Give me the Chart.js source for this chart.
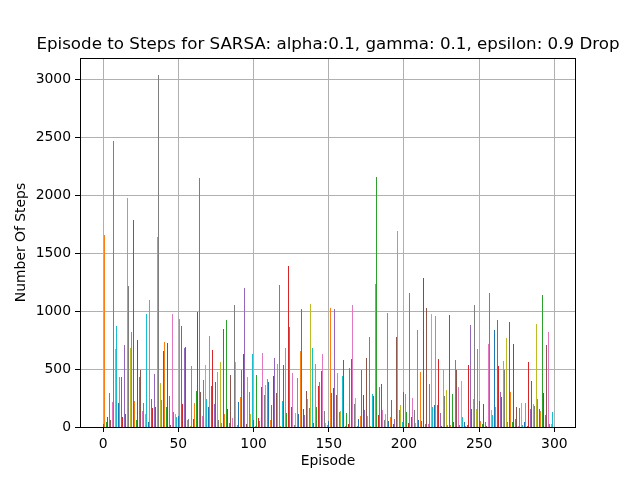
<!DOCTYPE html>
<html>
<head>
<meta charset="utf-8">
<script src="https://cdn.jsdelivr.net/npm/chart.js@4.4.0/dist/chart.umd.min.js"></script>
<style>
  html, body { margin: 0; padding: 0; background: #fff; }
  canvas { display: block; }
</style>
</head>
<body>
<canvas id="chart" width="640" height="480"></canvas>
<script>
// Steps per episode (episode 0..299)
const steps = [
    25, 1655, 43, 83, 293, 60, 215, 2466, 672, 871,
    207, 431, 431, 86, 707, 112, 1974, 1216, 681, 819,
    1785, 224, 60, 750, 431, 491, 138, 207, 112, 974,
    43, 1095, 241, 164, 457, 172, 1638, 3035, 379, 233,
    655, 733, 172, 724, 267, 20, 975, 129, 112, 86,
    95, 931, 871, 198, 681, 690, 60, 69, 10, 526,
    69, 207, 310, 991, 2147, 302, 92, 405, 535, 241,
    172, 785, 353, 664, 198, 388, 474, 60, 560, 34,
    845, 112, 923, 155, 34, 448, 78, 1052, 560, 17,
    215, 259, 491, 629, 1198, 26, 431, 302, 112, 629,
    60, 9, 448, 78, 52, 345, 638, 276, 362, 414,
    388, 60, 190, 440, 595, 293, 543, 1224, 10, 224,
    535, 681, 121, 1388, 862, 172, 466, 17, 121, 422,
    112, 655, 1017, 155, 100, 310, 241, 164, 1060, 681,
    34, 543, 172, 353, 388, 483, 629, 138, 34, 20,
    52, 1026, 293, 336, 1017, 276, 466, 129, 138, 440,
    578, 9, 121, 26, 509, 586, 1052, 198, 250, 9,
    69, 95, 491, 276, 147, 595, 95, 776, 10, 284,
    267, 1233, 2155, 103, 345, 371, 147, 60, 112, 983,
    52, 86, 233, 26, 69, 776, 1690, 147, 190, 40,
    302, 284, 129, 34, 1155, 86, 250, 147, 34, 836,
    60, 474, 52, 1285, 26, 1026, 26, 371, 974, 172,
    190, 957, 190, 586, 121, 9, 491, 267, 319, 17,
    966, 20, 284, 43, 578, 491, 345, 17, 397, 86,
    43, 5, 17, 535, 879, 155, 241, 1052, 155, 672,
    224, 52, 26, 198, 43, 5, 716, 1155, 147, 103,
    836, 172, 923, 526, 302, 259, 569, 491, 767, 43,
    905, 302, 43, 716, 69, 172, 10, 164, 207, 17,
    43, 207, 5, 560, 155, 397, 198, 181, 888, 241,
    155, 138, 1138, 293, 103, 707, 819, 30, 26, 129
];
const episodes = steps.map((_, i) => i);

// Tick labels
const xTicks = [0, 50, 100, 150, 200, 250, 300];
const yTicks = [0, 500, 1000, 1500, 2000, 2500, 3000];

// matplotlib tab10 colour cycle, one colour per bar
const tab10 = ['#1f77b4', '#ff7f0e', '#2ca02c', '#d62728', '#9467bd',
               '#8c564b', '#e377c2', '#7f7f7f', '#bcbd22', '#17becf'];

const titleText = 'Episode to Steps for SARSA: alpha:0.1, gamma: 0.1, epsilon: 0.9 Drop';
const FONT = 'DejaVu Sans';

Chart.defaults.color = '#000';
Chart.defaults.font.family = FONT;

// Snap the thin bars to whole pixels (matplotlib does the same), so they stay crisp
const snapPlugin = {
    id: 'snap',
    beforeDatasetsDraw(chart) {
        chart.getDatasetMeta(0).data.forEach(bar => {
            bar.x = Math.floor(bar.x) + 0.5;
            bar.width = 1;
            bar.y = Math.round(bar.y);
            bar.base = Math.round(bar.base);
        });
    }
};

// Title and full box frame like matplotlib spines
const framePlugin = {
    id: 'frame',
    afterDraw(chart) {
        const { ctx, chartArea: a } = chart;
        ctx.save();
        ctx.strokeStyle = '#000';
        ctx.lineWidth = 1;
        ctx.strokeRect(a.left + 0.5, a.top + 0.5, a.right - a.left - 1, a.bottom - a.top);
        ctx.fillStyle = '#000';
        ctx.font = '16.7px "' + FONT + '"';
        ctx.textAlign = 'center';
        ctx.textBaseline = 'alphabetic';
        ctx.fillText(titleText, (a.left + a.right) / 2, a.top - 9);
        ctx.restore();
    }
};

const ctx = document.getElementById('chart').getContext('2d');
new Chart(ctx, {
    type: 'bar',
    data: {
        datasets: [{
            label: 'Steps',
            data: episodes.map((e, i) => ({ x: e, y: steps[i] })),
            backgroundColor: episodes.map(e => tab10[e % 10]),
            borderWidth: 0,
            categoryPercentage: 1.0,
            barPercentage: 0.8
        }]
    },
    options: {
        responsive: false,
        animation: false,
        devicePixelRatio: 1,
        layout: { padding: { left: 0, right: 64, top: 58, bottom: 0 } },
        plugins: {
            legend: { display: false },
            tooltip: { enabled: false }
        },
        scales: {
            x: {
                type: 'linear',
                min: -15.4,
                max: 314.4,
                offset: false,
                z: 1,
                afterFit: s => { s.height = 53; },
                afterBuildTicks: s => { s.ticks = xTicks.map(v => ({ value: v })); },
                grid: { color: '#b0b0b0', lineWidth: 1, offset: false, tickLength: 5, tickColor: '#000' },
                border: { display: false },
                ticks: { font: { size: 13.9 }, padding: 4, maxRotation: 0, callback: v => v },
                title: { display: true, text: 'Episode', font: { size: 13.9 }, padding: { top: 0, bottom: 10 } }
            },
            y: {
                min: 0,
                max: 3185,
                z: 1,
                afterFit: s => { s.width = 80; },
                afterBuildTicks: s => { s.ticks = yTicks.map(v => ({ value: v })); },
                grid: { color: '#b0b0b0', lineWidth: 1, tickLength: 5, tickColor: '#000' },
                border: { display: false },
                ticks: { font: { size: 13.9 }, padding: 4, callback: v => v },
                title: { display: true, text: 'Number Of Steps', font: { size: 13.9 }, padding: { top: 13, bottom: 0 } }
            }
        }
    },
    plugins: [snapPlugin, framePlugin]
});
</script>
</body>
</html>
